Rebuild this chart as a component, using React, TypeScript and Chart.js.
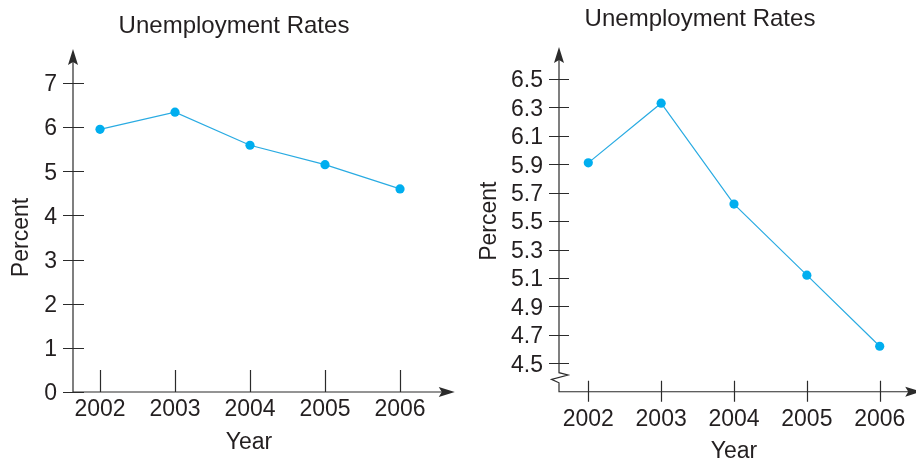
import React, { useEffect, useRef } from 'react';
import { Chart, registerables } from 'chart.js';

Chart.register(...registerables);

// ---- data ----
const years = [2002, 2003, 2004, 2005, 2006];
const yearLabels = ['2002', '2003', '2004', '2005', '2006'];
const leftRates = [5.95, 6.34, 5.59, 5.15, 4.6];
const rightRates = [5.91, 6.33, 5.62, 5.12, 4.62];
const leftYTicks = [0, 1, 2, 3, 4, 5, 6, 7];
const leftYTickLabels = ['0', '1', '2', '3', '4', '5', '6', '7'];
const rightYTicks = [4.5, 4.7, 4.9, 5.1, 5.3, 5.5, 5.7, 5.9, 6.1, 6.3, 6.5];
const rightYTickLabels = ['4.5', '4.7', '4.9', '5.1', '5.3', '5.5', '5.7', '5.9', '6.1', '6.3', '6.5'];
const chartTitle = 'Unemployment Rates';
const xTitle = 'Year';
const yTitle = 'Percent';

const TEXT = '#231f20';
const AXIS = '#2b2b2b';
const DOT = '#00aeef';
const LINE = '#29abe2';
const FONT = "'Liberation Sans', Arial, Helvetica, sans-serif";

const axisDecor = {
  id: 'axisDecor',
  beforeDatasetsDraw(chart: any, _args: any, o: any) {
    const { ctx, chartArea } = chart;
    const xs = chart.scales.x;
    const ys = chart.scales.y;
    const ax = chartArea.left;
    const ay = ys.getPixelForValue(o.xAxisAt);
    const yTip = ys.getPixelForValue(o.yArrowAt);
    const xTip = xs.getPixelForValue(o.xArrowAt);
    ctx.save();
    ctx.strokeStyle = AXIS;
    ctx.fillStyle = AXIS;
    ctx.lineWidth = 1.2;
    ctx.beginPath();
    ctx.moveTo(ax, yTip + 10);
    if (o.breakVals) {
      const b = o.breakVals.map((v: number) => ys.getPixelForValue(v));
      ctx.lineTo(ax, b[0]);
      ctx.lineTo(ax + o.breakDx[0], b[1]);
      ctx.lineTo(ax + o.breakDx[1], b[2]);
      ctx.lineTo(ax, b[3]);
    }
    ctx.lineTo(ax, ay);
    ctx.lineTo(xTip - 10, ay);
    ctx.stroke();
    ctx.beginPath();
    ys.ticks.forEach((t: any) => {
      const p = Math.round(ys.getPixelForValue(t.value)) + 0.5;
      ctx.moveTo(ax - o.yOut, p);
      ctx.lineTo(ax + o.yIn, p);
    });
    xs.ticks.forEach((t: any) => {
      const p = Math.round(xs.getPixelForValue(t.value)) + 0.5;
      ctx.moveTo(p, ay - o.xUp);
      ctx.lineTo(p, ay + o.xDown);
    });
    ctx.stroke();
    // arrow heads
    ctx.beginPath();
    ctx.moveTo(ax, yTip);
    ctx.lineTo(ax - 5, yTip + 16);
    ctx.lineTo(ax, yTip + 13);
    ctx.lineTo(ax + 5, yTip + 16);
    ctx.closePath();
    ctx.fill();
    ctx.beginPath();
    ctx.moveTo(xTip, ay);
    ctx.lineTo(xTip - 16, ay - 5);
    ctx.lineTo(xTip - 13, ay);
    ctx.lineTo(xTip - 16, ay + 5);
    ctx.closePath();
    ctx.fill();
    ctx.restore();
  },
};

type Params = {
  rates: number[];
  yTicks: number[];
  yTickLabels: string[];
  yMin: number;
  yMax: number;
  xMin: number;
  xMax: number;
  padL: number;
  padR: number;
  yAxisWidth: number;
  xAxisHeight: number;
  titlePad: { top: number; bottom: number };
  yTitlePad: number;
  xTitlePad: number;
  xTickLineHeight: string;
  decor: any;
};

function makeConfig(p: Params): any {
  return {
    type: 'line',
    data: {
      datasets: [
        {
          data: years.map((y, i) => ({ x: y, y: p.rates[i] })),
          borderColor: LINE,
          borderWidth: 1.2,
          pointRadius: 4.6,
          pointBackgroundColor: DOT,
          pointBorderWidth: 0,
          tension: 0,
          clip: false,
        },
      ],
    },
    options: {
      responsive: false,
      animation: false,
      layout: { padding: { left: p.padL, right: p.padR, top: 0, bottom: 0 } },
      plugins: {
        legend: { display: false },
        tooltip: { enabled: false },
        title: {
          display: true,
          text: chartTitle,
          color: TEXT,
          font: { family: FONT, size: 24, weight: 'normal', lineHeight: 1.2 },
          padding: p.titlePad,
        },
        axisDecor: p.decor,
      },
      scales: {
        x: {
          type: 'linear',
          min: p.xMin,
          max: p.xMax,
          afterBuildTicks: (s: any) => {
            s.ticks = years.map((v) => ({ value: v }));
          },
          afterFit: (s: any) => {
            s.height = p.xAxisHeight;
          },
          grid: { display: false, drawTicks: false },
          border: { display: false },
          ticks: {
            color: TEXT,
            font: { family: FONT, size: 23, lineHeight: p.xTickLineHeight },
            padding: 3.5,
            maxRotation: 0,
            autoSkip: false,
            callback: (_v: any, i: number) => yearLabels[i],
          },
          title: {
            display: true,
            text: xTitle,
            color: TEXT,
            font: { family: FONT, size: 23 },
            padding: { top: 0, bottom: p.xTitlePad },
          },
        },
        y: {
          type: 'linear',
          min: p.yMin,
          max: p.yMax,
          afterBuildTicks: (s: any) => {
            s.ticks = p.yTicks.map((v) => ({ value: v }));
          },
          afterFit: (s: any) => {
            s.width = p.yAxisWidth;
          },
          grid: { display: false, drawTicks: false },
          border: { display: false },
          ticks: {
            color: TEXT,
            font: { family: FONT, size: 23 },
            padding: 16,
            labelOffset: 2,
            autoSkip: false,
            callback: (_v: any, i: number) => p.yTickLabels[i],
          },
          title: {
            display: true,
            text: yTitle,
            color: TEXT,
            font: { family: FONT, size: 23 },
            padding: { top: p.yTitlePad, bottom: 0 },
          },
        },
      },
    },
    plugins: [axisDecor],
  };
}

const leftParams: Params = {
  rates: leftRates,
  yTicks: leftYTicks,
  yTickLabels: leftYTickLabels,
  yMin: 0,
  yMax: 7,
  xMin: 2001.64,
  xMax: 2006.333,
  padL: 43,
  padR: 35,
  yAxisWidth: 30,
  xAxisHeight: 68,
  titlePad: { top: 11.6, bottom: 42.6 },
  yTitlePad: -35.1,
  xTitlePad: 3.2,
  xTickLineHeight: '27.6px',
  decor: {
    xAxisAt: 0,
    yArrowAt: 7.77,
    xArrowAt: 2006.73,
    yOut: 10,
    yIn: 11,
    xUp: 22,
    xDown: 0,
  },
};

const rightParams: Params = {
  rates: rightRates,
  yTicks: rightYTicks,
  yTickLabels: rightYTickLabels,
  yMin: 4.5,
  yMax: 6.5,
  xMin: 2001.598,
  xMax: 2006.402,
  padL: 31,
  padR: 7,
  yAxisWidth: 68,
  xAxisHeight: 106.7,
  titlePad: { top: 4.6, bottom: 45.6 },
  yTitlePad: -14.8,
  xTitlePad: 4.2,
  xTickLineHeight: '106.4px',
  decor: {
    xAxisAt: 4.3,
    yArrowAt: 6.725,
    xArrowAt: 2006.57,
    yOut: 10,
    yIn: 10,
    xUp: 11,
    xDown: 10,
    breakVals: [4.434, 4.418, 4.387, 4.363],
    breakDx: [9, -7.5],
  },
};

function LineChart({ params, left, width, height }: { params: Params; left: number; width: number; height: number }) {
  const ref = useRef<HTMLCanvasElement>(null);
  useEffect(() => {
    const chart = new Chart(ref.current as HTMLCanvasElement, makeConfig(params));
    return () => chart.destroy();
  }, []);
  return (
    <canvas
      ref={ref}
      width={width}
      height={height}
      style={{ position: 'absolute', left, top: 0, width, height }}
    />
  );
}

export default function App() {
  return (
    <div
      style={{
        position: 'fixed',
        left: 0,
        top: 0,
        width: 916,
        height: 460,
        overflow: 'hidden',
        background: '#ffffff',
      }}
    >
      <LineChart params={leftParams} left={0} width={460} height={460} />
      <LineChart params={rightParams} left={460} width={456} height={470} />
    </div>
  );
}
